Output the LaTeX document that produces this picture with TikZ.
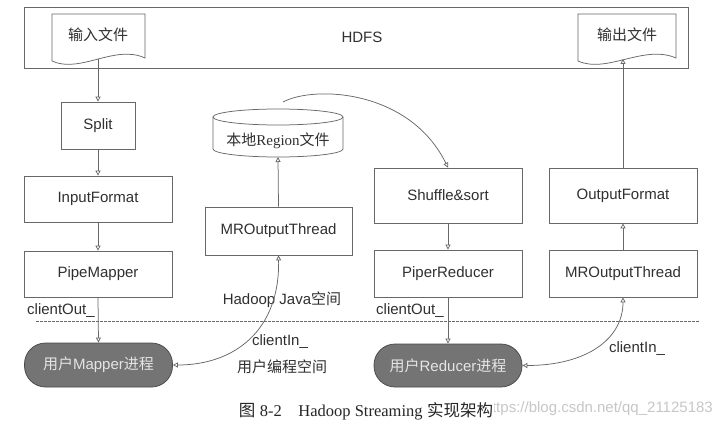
\documentclass[tikz,border=0pt]{standalone}
\usepackage{fontspec}
\setmainfont{Liberation Sans}
\newfontfamily\cjk{Noto Sans CJK SC}
\newfontfamily\rmserif{Liberation Serif}
\usetikzlibrary{arrows.meta}
\definecolor{edge}{HTML}{686868}
\definecolor{txt}{HTML}{303030}
\definecolor{pill}{HTML}{747474}
\begin{document}
\begin{tikzpicture}[x=1pt,y=-1pt,
  font=\fontsize{15}{18}\selectfont, text=txt,
  line/.style={draw=edge, line width=0.75pt},
  box/.style={line, fill=white, minimum width=148pt, minimum height=47pt, inner sep=0pt},
  pillbox/.style={draw=edge!70!black, line width=0.75pt, fill=pill, rounded corners=21pt, text=white!90!black, minimum width=148pt, minimum height=44pt, inner sep=0pt},
  tip/.tip={Triangle[open,length=5pt,width=5pt]},
  conn/.style={line, -tip},
  dconn/.style={line, tip-tip},
  lbl/.style={inner sep=0pt}
]
\useasboundingbox (0,0) rectangle (723,428);
\fill[white] (0,0) rectangle (723,428);

% HDFS
\draw[line] (24,7) rectangle (688,68);
\node[lbl] (hdfs) at (362,37) {HDFS};

% document shapes
\draw[line, fill=white] (52,14) -- (145,14) -- (145,58) .. controls (115,44) and (80,74) .. (52,61) -- cycle;
\node[lbl] (infile) at (98,35) {\cjk 输入文件};
\coordinate (inbot) at (98,59.5);
\draw[line, fill=white] (578,14) -- (676,14) -- (676,58) .. controls (644,44) and (607,74) .. (578,61) -- cycle;
\node[lbl] (outfile) at (627,35) {\cjk 输出文件};
\coordinate (outbot) at (623,59);

% left column
\node[box, minimum width=74pt] (split) at (98,125.5) {Split};
\node[box, minimum height=46pt] (inputformat) at (98,199) {InputFormat};
\node[box, minimum height=46pt] (pipemapper) at (98,274) {PipeMapper};
\node[pillbox] (mapper) at (98.5,365) {{\cjk 用户}Mapper{\cjk 进程}};

% middle column
\draw[line, fill=white] (213,117) -- (213,149) arc[start angle=180, end angle=360, x radius=65pt, y radius=8pt] -- (343,117);
\draw[line] (278,117) ellipse[x radius=65pt, y radius=8pt];
\node[lbl] (region) at (278,141) {{\cjk 本地}{\rmserif Region}{\cjk 文件}};
\coordinate (cylbot) at (278,157);
\coordinate (cyltop) at (283,102);
\node[box, minimum width=147pt, minimum height=48pt] (mroleft) at (278.5,231) {MROutputThread};

% right-middle column
\node[box, minimum height=55pt] (shuffle) at (448,195.5) {Shuffle\&sort};
\node[box] (piperreducer) at (448,273.5) {PiperReducer};
\node[pillbox, minimum height=43pt] (reducer) at (448,365.5) {{\cjk 用户}Reducer{\cjk 进程}};

% right column
\node[box, minimum height=55pt] (outputformat) at (623,195.5) {OutputFormat};
\node[box] (mroright) at (623,273.5) {MROutputThread};

% dashed separator
\draw[edge, line width=0.6pt, dashed, dash pattern=on 2.5pt off 1.5pt] (36,321) -- (700,321);

% labels
\node[lbl, anchor=west] (cout1) at (27,311) {clientOut\_};
\node[lbl, anchor=west] (cout2) at (376,311) {clientOut\_};
\node[lbl] (javasp) at (282,300) {Hadoop Java{\cjk 空间}};
\node[lbl] (cin1) at (280,342) {clientIn\_};
\node[lbl] (usersp) at (282,367) {\cjk 用户编程空间};
\node[lbl] (cin2) at (637,349) {clientIn\_};

% connectors
\draw[conn] (inbot) -- (split.north);
\draw[conn] (split.south) -- (inputformat.north);
\draw[conn] (inputformat.south) -- (pipemapper.north);
\draw[conn] (pipemapper.south) -- (mapper.north);
\draw[conn] (mroleft.north) -- (cylbot);
\draw[conn] (cyltop) .. controls (315,85) and (410,90) .. (shuffle.north);
\draw[conn] (shuffle.south) -- (piperreducer.north);
\draw[conn] (piperreducer.south) -- (reducer.north);
\draw[conn] (mroright.north) -- (outputformat.south);
\draw[conn] (outputformat.north) -- (outbot);
\draw[dconn] (mapper.east) .. controls (235,365) and (280,330) .. (mroleft.south);
\draw[dconn] (reducer.east) .. controls (585,365.5) and (623,340) .. (mroright.south);

% caption and watermark
\node[lbl, anchor=east, text=black!22] (wm) at (713,409) {https://blog.csdn.net/qq\_21125183};
\node[fill=white, inner sep=1pt, text=black!85, font=\fontsize{16.5}{19}\selectfont] (caption) at (366,411) {{\cjk 图} {\rmserif 8-2\quad Hadoop Streaming} {\cjk 实现架构}};
\end{tikzpicture}
\end{document}
